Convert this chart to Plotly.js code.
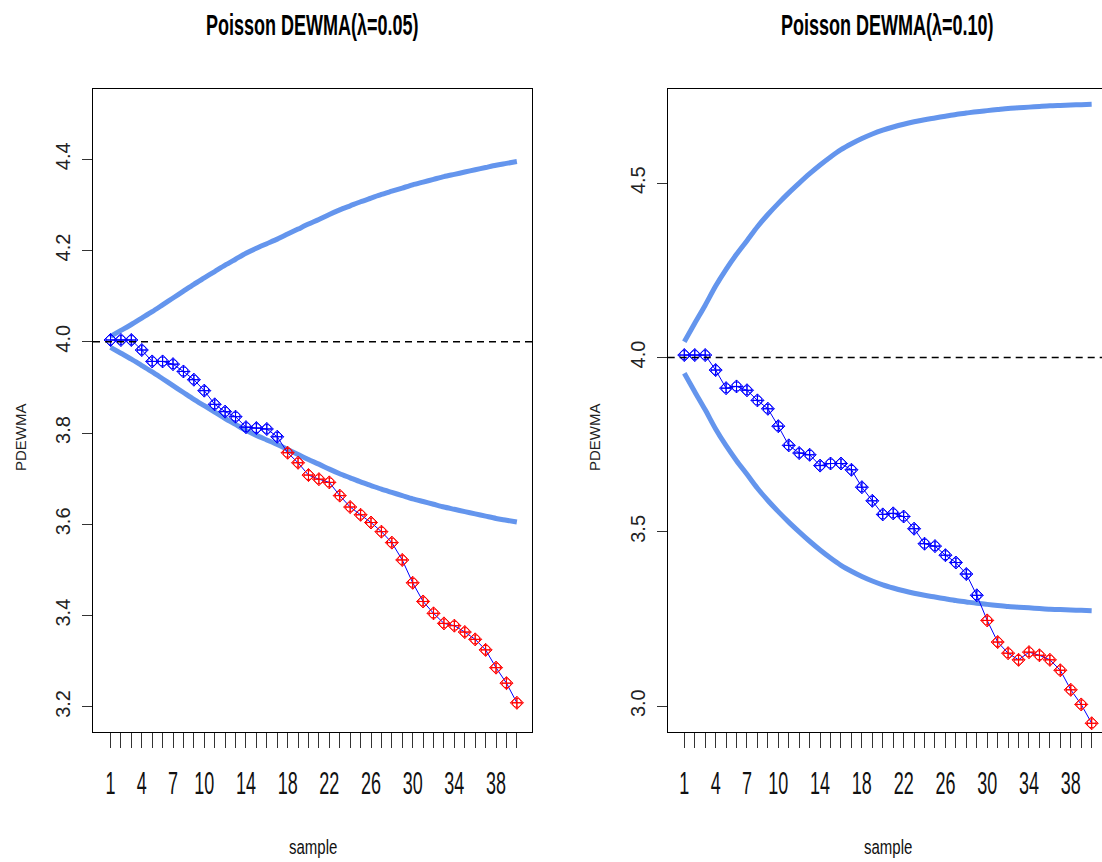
<!DOCTYPE html>
<html>
<head>
<meta charset="utf-8">
<script src="https://cdn.plot.ly/plotly-3.0.1.min.js"></script>
<style>
html,body{margin:0;padding:0;background:#fff;}
#chart{width:1102px;height:862px;}
</style>
</head>
<body>
<div id="chart"></div>
<script>
// ---- data ----
const sample = [1,2,3,4,5,6,7,8,9,10,11,12,13,14,15,16,17,18,19,20,21,22,23,24,25,26,27,28,29,30,31,32,33,34,35,36,37,38,39,40];
const tickLabels = [1,4,7,10,14,18,22,26,30,34,38];
const center = 4.0;

// lambda = 0.05
const pd05 = [4.004,4.004,4.004,3.982,3.957,3.957,3.951,3.935,3.917,3.893,3.863,3.847,3.836,3.813,3.811,3.809,3.792,3.757,3.735,3.708,3.699,3.692,3.663,3.638,3.621,3.604,3.584,3.560,3.522,3.472,3.431,3.405,3.383,3.378,3.364,3.348,3.325,3.286,3.252,3.209];
const ucl05 = [4.012,4.025,4.038,4.052,4.066,4.081,4.096,4.111,4.126,4.140,4.154,4.168,4.181,4.194,4.205,4.215,4.225,4.236,4.247,4.258,4.268,4.279,4.289,4.298,4.307,4.315,4.323,4.330,4.337,4.344,4.350,4.356,4.362,4.367,4.372,4.377,4.382,4.387,4.391,4.395];
const lcl05 = [3.988,3.975,3.962,3.948,3.934,3.919,3.904,3.889,3.874,3.860,3.846,3.832,3.819,3.806,3.795,3.785,3.775,3.764,3.753,3.742,3.732,3.721,3.711,3.702,3.693,3.685,3.677,3.670,3.663,3.656,3.650,3.644,3.638,3.633,3.628,3.623,3.618,3.613,3.609,3.605];

// lambda = 0.10
const pd10 = [4.007,4.007,4.007,3.964,3.912,3.917,3.906,3.877,3.853,3.803,3.748,3.726,3.721,3.690,3.696,3.696,3.678,3.628,3.589,3.550,3.553,3.544,3.509,3.466,3.459,3.433,3.412,3.379,3.318,3.246,3.184,3.152,3.133,3.155,3.146,3.133,3.103,3.047,3.005,2.951];
const ucl10 = [4.045,4.098,4.150,4.205,4.253,4.296,4.335,4.375,4.410,4.442,4.472,4.500,4.527,4.552,4.575,4.596,4.613,4.628,4.641,4.652,4.661,4.669,4.676,4.682,4.687,4.692,4.697,4.701,4.705,4.708,4.711,4.714,4.716,4.718,4.720,4.722,4.723,4.724,4.725,4.726];
const lcl10 = [3.955,3.902,3.850,3.795,3.747,3.704,3.665,3.625,3.590,3.558,3.528,3.500,3.473,3.448,3.425,3.404,3.387,3.372,3.359,3.348,3.339,3.331,3.324,3.318,3.313,3.308,3.303,3.299,3.295,3.292,3.289,3.286,3.284,3.282,3.280,3.278,3.277,3.276,3.275,3.274];

const titles = ['Poisson DEWMA(\u03bb=0.05)', 'Poisson DEWMA(\u03bb=0.10)'];

// ---- styles ----
const limitColor = '#6495ED';
const inColor = '#0000FF';
const outColor = '#FF0000';
const FONT = 'Liberation Sans, Arial, sans-serif';

function panelTraces(vals, ucl, lcl, xa, ya) {
  const cols = vals.map((v, i) => (v < lcl[i] || v > ucl[i]) ? outColor : inColor);
  return [
    {x: sample, y: ucl, xaxis: xa, yaxis: ya, mode: 'lines', line: {color: limitColor, width: 5, shape: 'spline', smoothing: 0.8}, hoverinfo: 'skip'},
    {x: sample, y: lcl, xaxis: xa, yaxis: ya, mode: 'lines', line: {color: limitColor, width: 5, shape: 'spline', smoothing: 0.8}, hoverinfo: 'skip'},
    {x: sample, y: vals, xaxis: xa, yaxis: ya, mode: 'lines', line: {color: inColor, width: 1}},
    {x: sample, y: vals, xaxis: xa, yaxis: ya, mode: 'markers',
      marker: {symbol: 'diamond-cross-open', size: 10, color: cols, line: {color: cols, width: 1}}},
    {x: sample, y: vals, xaxis: xa, yaxis: ya, mode: 'markers',
      marker: {symbol: 'circle-cross-open', size: 9, color: cols, line: {color: cols, width: 1}}}
  ];
}

const data = [].concat(
  panelTraces(pd05, ucl05, lcl05, 'x', 'y'),
  panelTraces(pd10, ucl10, lcl10, 'x2', 'y2')
);

const tickText = sample.map(s => tickLabels.includes(s) ? String(s) : '');

function xAxis(domain, range, mirror) {
  return {
    domain: domain, range: range, tickmode: 'array', tickvals: sample, ticktext: tickText,
    ticks: 'outside', ticklen: 15, tickwidth: 1, tickcolor: '#333',
    showline: true, linecolor: '#000', linewidth: 1, mirror: mirror,
    showgrid: false, zeroline: false, tickangle: 0,
    tickfont: {family: FONT, size: 18, color: '#111'}, ticklabelstandoff: 20
  };
}
function yAxis(range, dtick, anchor, mirror) {
  return {
    range: range, anchor: anchor, tickmode: 'linear', tick0: 3.0, dtick: dtick, tickformat: '.1f',
    ticks: 'outside', ticklen: 10, tickwidth: 1, tickcolor: '#333',
    showline: true, linecolor: '#000', linewidth: 1, mirror: mirror,
    showgrid: false, zeroline: false, tickangle: -90,
    tickfont: {family: FONT, size: 20, color: '#222'}, ticklabelstandoff: 4
  };
}

const W = 1102, H = 862, T = 89, B = 130;
const ph = H - T - B;
const py = p => (H - B - p) / ph;

const layout = {
  width: W, height: H, showlegend: false,
  margin: {l: 0, r: 0, t: T, b: B, pad: 0},
  paper_bgcolor: '#fff', plot_bgcolor: '#fff',
  font: {family: FONT, color: '#111'},
  xaxis: xAxis([93 / W, 532.3 / W], [-0.68, 41.48], true),
  yaxis: yAxis([3.145, 4.554], 0.2, 'x', true),
  xaxis2: xAxis([667.7 / W, 1], [-0.59, 40.99], true),
  yaxis2: yAxis([2.926, 4.770], 0.5, 'x2', false),
  shapes: [
    {type: 'line', xref: 'x domain', yref: 'y', x0: 0, x1: 1, y0: center, y1: center, layer: 'above', line: {color: '#000', width: 1.5, dash: '7px,5px'}},
    {type: 'line', xref: 'x2 domain', yref: 'y2', x0: 0, x1: 1, y0: center, y1: center, layer: 'above', line: {color: '#000', width: 1.5, dash: '7px,5px'}}
  ],
  annotations: [
    {text: titles[0], xref: 'paper', yref: 'paper', x: 312.7 / W, y: py(25), showarrow: false, xanchor: 'center', yanchor: 'middle', font: {family: FONT, size: 18, weight: 'bold', color: '#000'}},
    {text: titles[1], xref: 'paper', yref: 'paper', x: 887.7 / W, y: py(25), showarrow: false, xanchor: 'center', yanchor: 'middle', font: {family: FONT, size: 18, weight: 'bold', color: '#000'}},
    {text: 'sample', xref: 'paper', yref: 'paper', x: 312.7 / W, y: py(846), showarrow: false, xanchor: 'center', yanchor: 'middle', font: {family: FONT, size: 15, color: '#111'}},
    {text: 'sample', xref: 'paper', yref: 'paper', x: 887.7 / W, y: py(846), showarrow: false, xanchor: 'center', yanchor: 'middle', font: {family: FONT, size: 15, color: '#111'}},
    {text: 'PDEWMA', xref: 'paper', yref: 'paper', x: 20 / W, y: py(437), showarrow: false, textangle: -90, xanchor: 'center', yanchor: 'middle', font: {family: FONT, size: 15, color: '#222'}},
    {text: 'PDEWMA', xref: 'paper', yref: 'paper', x: 594 / W, y: py(437), showarrow: false, textangle: -90, xanchor: 'center', yanchor: 'middle', font: {family: FONT, size: 15, color: '#222'}}
  ]
};

function stretch(el, k) {
  const bb = el.getBBox();
  const cy = bb.y + bb.height / 2;
  const t = el.getAttribute('transform') || '';
  el.setAttribute('transform', t + ' translate(0,' + cy + ') scale(1,' + k + ') translate(0,' + (-cy) + ')');
}

Plotly.newPlot('chart', data, layout, {displayModeBar: false, staticPlot: true}).then(gd => {
  gd.querySelectorAll('.xtick text, .x2tick text').forEach(el => stretch(el, 1.7));
  gd.querySelectorAll('.annotation').forEach(a => {
    const idx = +a.getAttribute('data-index');
    if (idx < 2) { const t = a.querySelector('text'); if (t) stretch(t, 1.6); }
    else if (idx < 4) { const t = a.querySelector('text'); if (t) stretch(t, 1.35); }
  });
});
</script>
</body>
</html>
